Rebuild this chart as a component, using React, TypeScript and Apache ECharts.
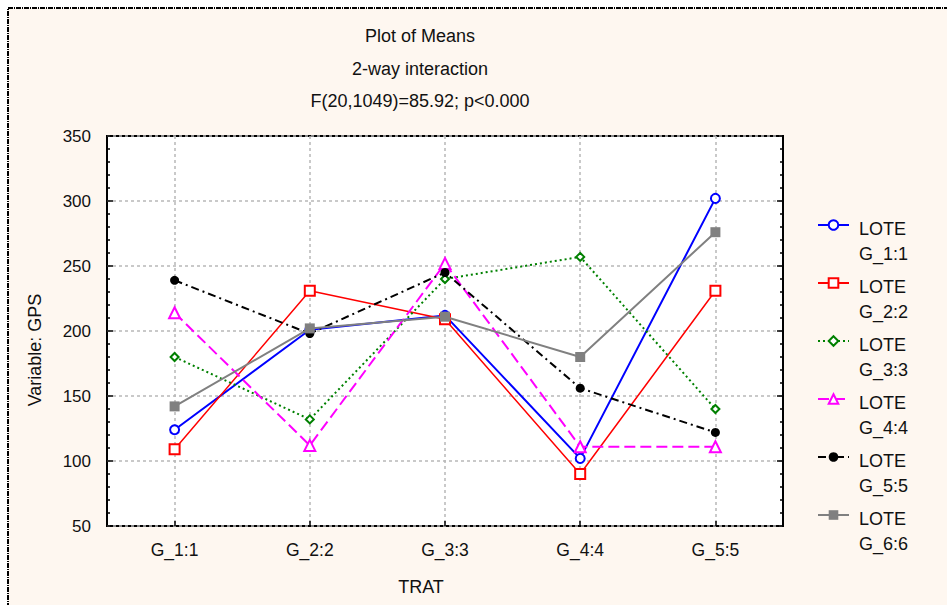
import React, { useEffect, useRef } from "react";
import * as echarts from "echarts";

const titleLines = ["Plot of Means", "2-way interaction", "F(20,1049)=85.92; p<0.000"];
const categories = ["G_1:1", "G_2:2", "G_3:3", "G_4:4", "G_5:5"];
const yTicks = { min: 50, max: 350, interval: 50 };
const xName = "TRAT";
const yName = "Variable: GPS";

const lote1 = [124, 201, 212, 102, 302];
const lote2 = [109, 231, 209, 90, 231];
const lote3 = [180, 132, 240, 257, 140];
const lote4 = [214, 112, 252, 111, 111];
const lote5 = [239, 198, 245, 156, 122];
const lote6 = [142, 202, 211, 180, 276];

const seriesNames = ["LOTE G_1:1", "LOTE G_2:2", "LOTE G_3:3", "LOTE G_4:4", "LOTE G_5:5", "LOTE G_6:6"];

const FONT = "'Liberation Sans', Arial, sans-serif";
const CREAM = "#fef7f0";

export default function App() {
  const ref = useRef<HTMLDivElement>(null);
  useEffect(() => {
    if (!ref.current) return;
    const chart = echarts.init(ref.current, null, { renderer: "svg" });
    const styles = [
      { color: "#0000ff", width: 2, type: "solid", symbol: "emptyCircle", size: 9 },
      { color: "#ff0000", width: 1.5, type: "solid", symbol: "emptyRect", size: 10 },
      { color: "#008000", width: 2, type: [2, 3], symbol: "emptyDiamond", size: 8 },
      { color: "#ff00ff", width: 2, type: [11, 5], symbol: "emptyTriangle", size: 11 },
      { color: "#000000", width: 2, type: [8, 4, 2, 4], symbol: "circle", size: 9 },
      { color: "#808080", width: 2, type: "solid", symbol: "rect", size: 10 },
    ];
    const data = [lote1, lote2, lote3, lote4, lote5, lote6];
    const series = data.map((d, i) => ({
      name: seriesNames[i],
      type: "line",
      data: d,
      symbol: styles[i].symbol,
      symbolSize: styles[i].size,
      showAllSymbol: true,
      lineStyle: { color: styles[i].color, width: styles[i].width, type: styles[i].type as any },
      itemStyle: { color: styles[i].color, borderWidth: 1.5 },
      z: 3 + i,
    }));

    const tickStyle = { color: "#000", width: 1.5 };
    const gridLine = { color: "#b8b8b8", width: 1.5, type: [3, 3] as any };
    chart.setOption({
      animation: false,
      backgroundColor: "#ffffff",
      textStyle: { fontFamily: FONT },
      grid: {
        left: 107,
        top: 136,
        right: 164,
        bottom: 79,
        show: true,
        backgroundColor: "#ffffff",
        borderColor: "#000",
        borderWidth: 2,
      },
      legend: {
        orient: "vertical",
        left: 817,
        top: 195,
        padding: 0,
        itemWidth: 31,
        itemHeight: 12,
        itemGap: -10,
        data: seriesNames,
        formatter: (name: string) => {
          const parts = name.split(" ");
          return "{s| }\n{a|" + parts[0] + "}\n{a|" + parts[1] + "}";
        },
        textStyle: {
          fontFamily: FONT,
          fontSize: 18,
          color: "#111",
          rich: {
            s: { fontSize: 10, lineHeight: 33, fontFamily: FONT },
            a: { fontSize: 18, lineHeight: 25, fontFamily: FONT, color: "#111", padding: [0, 0, 0, 5] },
          },
        },
      },
      xAxis: {
        type: "category",
        data: categories,
        boundaryGap: true,
        axisLine: { show: false },
        axisTick: { show: true, inside: true, alignWithLabel: true, length: 5, lineStyle: tickStyle },
        axisLabel: { fontFamily: FONT, fontSize: 17.5, color: "#111", margin: 15 },
        splitLine: {
          show: true,
          alignWithLabel: true,
          lineStyle: gridLine,
        } as any,
      },
      yAxis: [
        {
          type: "value",
          min: yTicks.min,
          max: yTicks.max,
          interval: yTicks.interval,
          axisLine: { show: false },
          axisTick: { show: true, inside: true, length: 6, lineStyle: tickStyle },
          minorTick: { show: true, splitNumber: 5, length: 3, lineStyle: tickStyle },
          axisLabel: { fontFamily: FONT, fontSize: 17, color: "#111", margin: 16 },
          splitLine: { show: true, lineStyle: gridLine },
        },
        {
          type: "value",
          position: "right",
          min: yTicks.min,
          max: yTicks.max,
          interval: yTicks.interval,
          axisLine: { show: false },
          axisTick: { show: true, inside: true, length: 6, lineStyle: tickStyle },
          minorTick: { show: true, splitNumber: 5, length: 3, lineStyle: tickStyle },
          axisLabel: { show: false },
          splitLine: { show: false },
        },
      ],
      graphic: [
        {
          type: "rect",
          z: -10,
          silent: true,
          shape: { x: 8, y: 8, width: 1000, height: 700 },
          style: { fill: CREAM, stroke: "#000", lineWidth: 2, lineDash: [5, 1, 1, 1] },
        },
        ...titleLines.map((t, i) => ({
          type: "text",
          x: 420,
          y: 36 + i * 32.5,
          style: {
            text: t,
            fontFamily: FONT,
            fontSize: 18,
            fill: "#111",
            textAlign: "center",
            textVerticalAlign: "middle",
          },
        })),
        {
          type: "text",
          x: 421,
          y: 587,
          style: {
            text: xName,
            fontFamily: FONT,
            fontSize: 18,
            fill: "#111",
            textAlign: "center",
            textVerticalAlign: "middle",
          },
        },
        {
          type: "text",
          x: 35,
          y: 350,
          rotation: Math.PI / 2,
          style: {
            text: yName,
            fontFamily: FONT,
            fontSize: 18,
            fill: "#111",
            textAlign: "center",
            textVerticalAlign: "middle",
          },
        },
      ],
      series,
    });
    return () => chart.dispose();
  }, []);
  return (
    <div
      ref={ref}
      style={{ position: "fixed", left: 0, top: 0, width: 947, height: 605 }}
    />
  );
}
